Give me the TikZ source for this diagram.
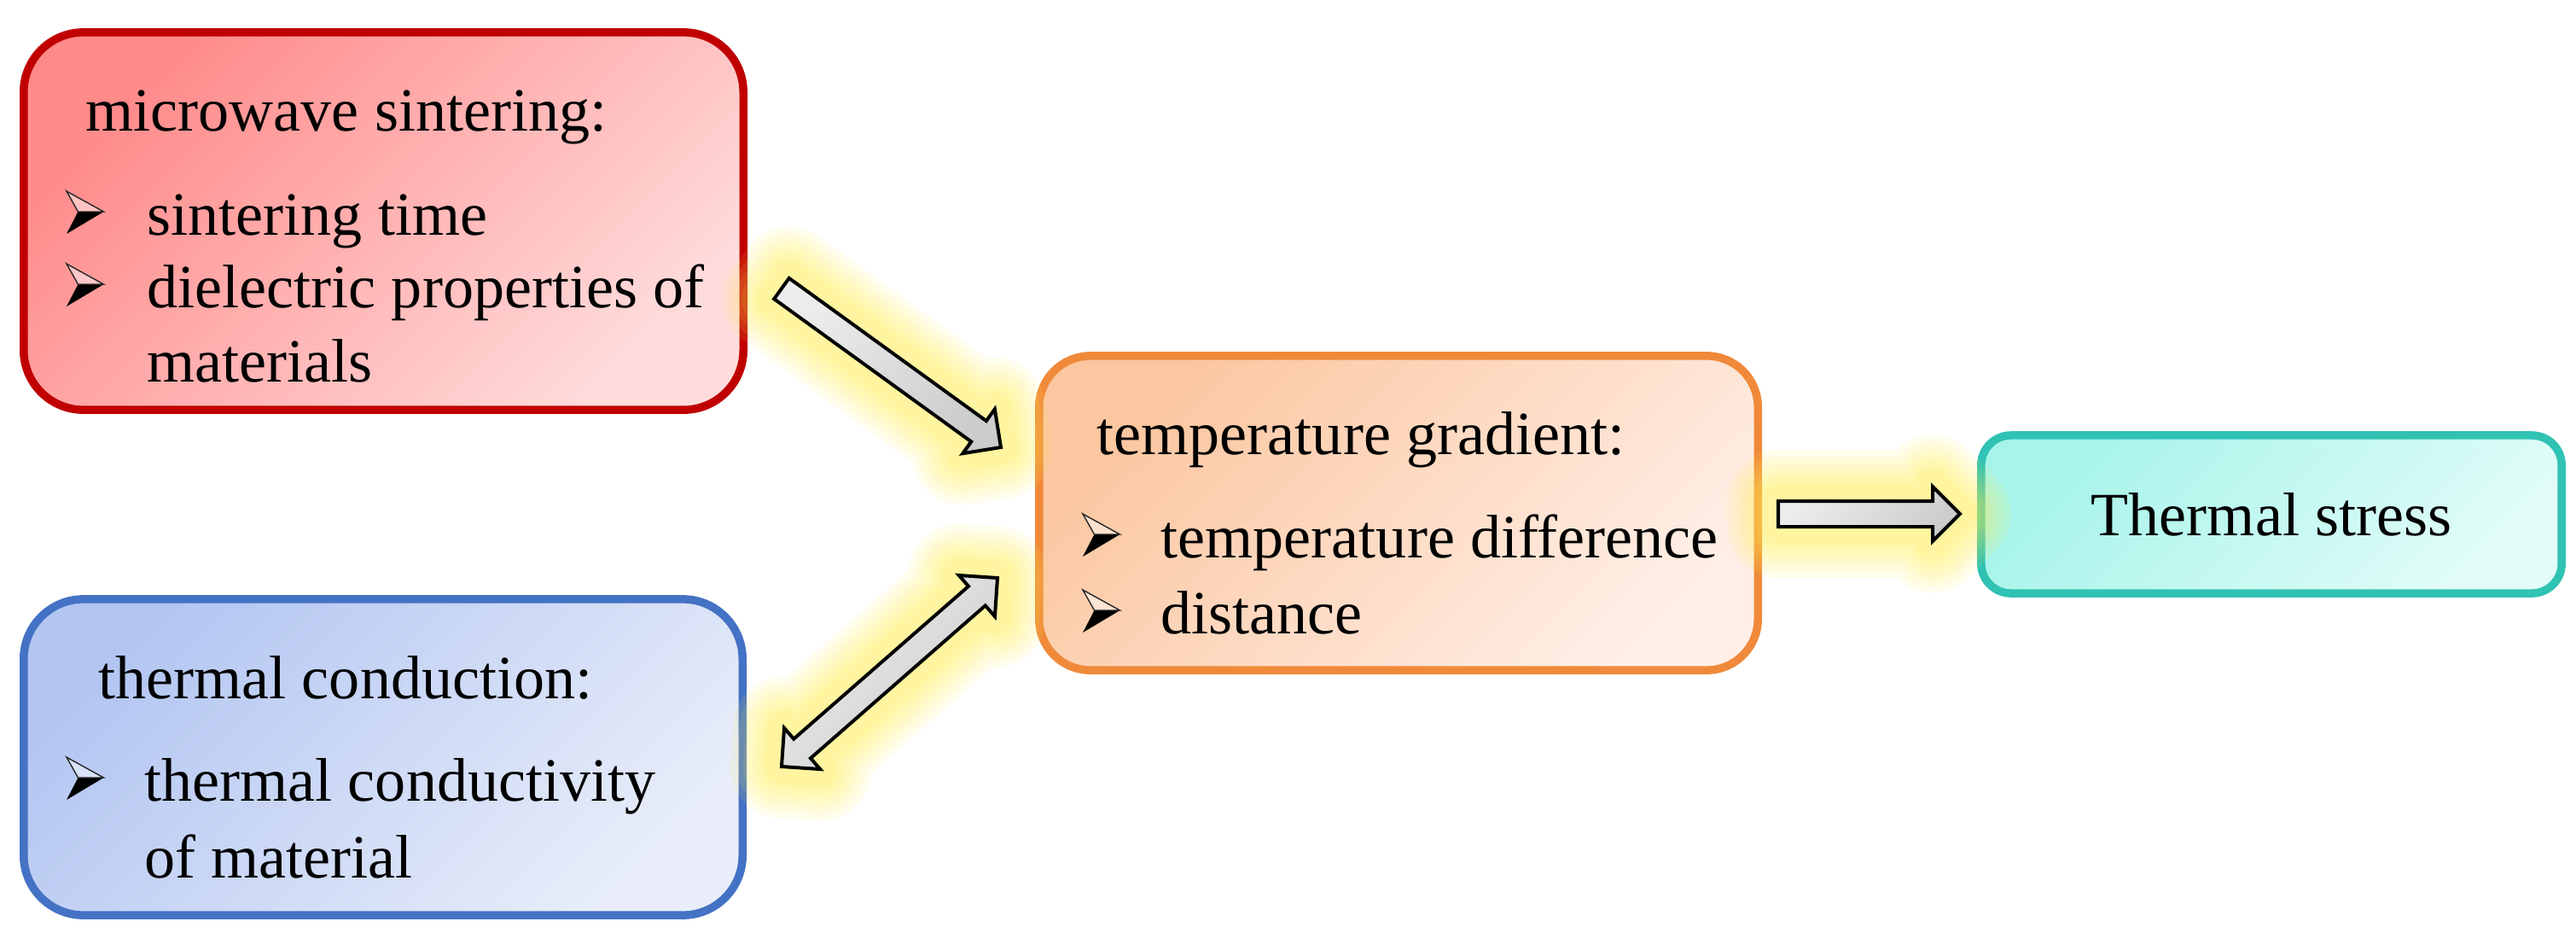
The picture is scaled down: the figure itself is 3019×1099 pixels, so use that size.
\documentclass[tikz,border=0pt]{standalone}
\usepackage{fontspec}
\setmainfont{Liberation Serif}
\usetikzlibrary{calc}
\definecolor{redB}{HTML}{C00000}
\definecolor{redT}{HTML}{FF8A8A}
\definecolor{redE}{HTML}{FFDCDC}
\definecolor{bluB}{HTML}{4472C4}
\definecolor{bluT}{HTML}{B3C6F2}
\definecolor{bluE}{HTML}{E8EDF9}
\definecolor{orgB}{HTML}{F0893A}
\definecolor{orgT}{HTML}{FBC6A0}
\definecolor{orgE}{HTML}{FFEFE7}
\definecolor{tealB}{HTML}{30C2B3}
\definecolor{tealT}{HTML}{A6F4EA}
\definecolor{tealE}{HTML}{E2FCF8}
\definecolor{glowc}{HTML}{FFEE55}
\tikzset{
  box/.style={rectangle, line width=0.095cm, inner sep=0pt, shading angle=45},
  txt/.style={anchor=base west, inner sep=0pt, font=\fontsize{20.5}{24}\selectfont},
  glowline/.style={draw=glowc, line join=round, line cap=round, draw opacity=0.11},
  arrowbody/.style={draw=black, line width=0.04cm, line join=miter, top color=gray!14, bottom color=gray!40, shading angle=45},
  bul/.pic={
    \fill[black] (13.5,-27) -- (43.5,-27) -- (0,-1) -- cycle;
    \draw[line width=0.014cm, draw=black!85, fill=white, fill opacity=0.45] (0,-51) -- (43.5,-27) -- (13.5,-27) -- cycle;
  }
}
\newcommand\singlearrow[3]{% tail, tip, head base
  \foreach \w in {1.2,1.05,0.9,0.76,0.63,0.51,0.4}{%
    \path[glowline, line width=\w cm] ($(#1)!0.15cm!90:(#2)$) -- ($(#3)!0.15cm!90:(#2)$) -- ($(#3)!0.32cm!90:(#2)$) -- (#2) -- ($(#3)!0.32cm!-90:(#2)$) -- ($(#3)!0.15cm!-90:(#2)$) -- ($(#1)!0.15cm!-90:(#2)$) -- cycle;}
  \path[arrowbody] ($(#1)!0.15cm!90:(#2)$) -- ($(#3)!0.15cm!90:(#2)$) -- ($(#3)!0.32cm!90:(#2)$) -- (#2) -- ($(#3)!0.32cm!-90:(#2)$) -- ($(#3)!0.15cm!-90:(#2)$) -- ($(#1)!0.15cm!-90:(#2)$) -- cycle;
}
\newcommand\doublearrow[4]{% end A, end B, head base A, head base B
  \foreach \w in {1.2,1.05,0.9,0.76,0.63,0.51,0.4}{%
    \path[glowline, line width=\w cm] (#1) -- ($(#3)!0.32cm!90:(#2)$) -- ($(#3)!0.15cm!90:(#2)$) -- ($(#4)!0.15cm!90:(#2)$) -- ($(#4)!0.32cm!90:(#2)$) -- (#2) -- ($(#4)!0.32cm!-90:(#2)$) -- ($(#4)!0.15cm!-90:(#2)$) -- ($(#3)!0.15cm!-90:(#2)$) -- ($(#3)!0.32cm!-90:(#2)$) -- cycle;}
  \path[arrowbody] (#1) -- ($(#3)!0.32cm!90:(#2)$) -- ($(#3)!0.15cm!90:(#2)$) -- ($(#4)!0.15cm!90:(#2)$) -- ($(#4)!0.32cm!90:(#2)$) -- (#2) -- ($(#4)!0.32cm!-90:(#2)$) -- ($(#4)!0.15cm!-90:(#2)$) -- ($(#3)!0.15cm!-90:(#2)$) -- ($(#3)!0.32cm!-90:(#2)$) -- cycle;
}
\begin{document}
\begin{tikzpicture}[x=0.01cm,y=-0.01cm]
\useasboundingbox (0,0) rectangle (3019,1099);
% boxes
\node[box, draw=redB, top color=redT, bottom color=redE, shading angle=45, rounded corners=0.7cm, minimum width=8.43cm, minimum height=4.42cm] (mw) at (449.5,259) {};
\node[box, draw=bluB, top color=bluT, bottom color=bluE, shading angle=45, rounded corners=0.7cm, minimum width=8.42cm, minimum height=3.70cm] (tc) at (449,887) {};
\node[box, draw=orgB, top color=orgT, bottom color=orgE, shading angle=45, rounded corners=0.6cm, minimum width=8.42cm, minimum height=3.68cm] (tg) at (1639,601) {};
\node[box, draw=tealB, top color=tealT, bottom color=tealE, shading angle=45, rounded corners=0.35cm, minimum width=6.80cm, minimum height=1.85cm, font=\fontsize{20.5}{24}\selectfont] (ts) at (2662,602.5) {Thermal stress};
% texts red
\node[txt] (mw0) at (100,153) {microwave sintering:};
\pic at (78,275) {bul};
\node[txt] (mw1) at (172,275) {sintering time};
\pic at (78,360) {bul};
\node[txt] (mw2) at (172,360) {dielectric properties of};
\node[txt] (mw3) at (172,447) {materials};
% texts blue
\node[txt] (tc0) at (115,818) {thermal conduction:};
\pic at (78,938) {bul};
\node[txt] (tc1) at (169,938) {thermal conductivity};
\node[txt] (tc2) at (169,1028) {of material};
% texts orange
\node[txt] (tg0) at (1285,532) {temperature gradient:};
\pic at (1269,653) {bul};
\node[txt] (tg1) at (1360,653) {temperature difference};
\pic at (1269,742) {bul};
\node[txt] (tg2) at (1360,742) {distance};
% arrows
\coordinate (a1s) at (916,338);
\coordinate (a1e) at (1173,524);
\coordinate (a1h) at ($(a1e)!0.32cm!(a1s)$);
\singlearrow{a1s}{a1e}{a1h}
\coordinate (a2s) at (916,898);
\coordinate (a2e) at (1169,677);
\coordinate (a2hs) at ($(a2s)!0.32cm!(a2e)$);
\coordinate (a2he) at ($(a2e)!0.32cm!(a2s)$);
\doublearrow{a2s}{a2e}{a2hs}{a2he}
\coordinate (a3s) at (2084,602);
\coordinate (a3e) at (2297,602);
\coordinate (a3h) at ($(a3e)!0.32cm!(a3s)$);
\singlearrow{a3s}{a3e}{a3h}
\end{tikzpicture}
\end{document}
